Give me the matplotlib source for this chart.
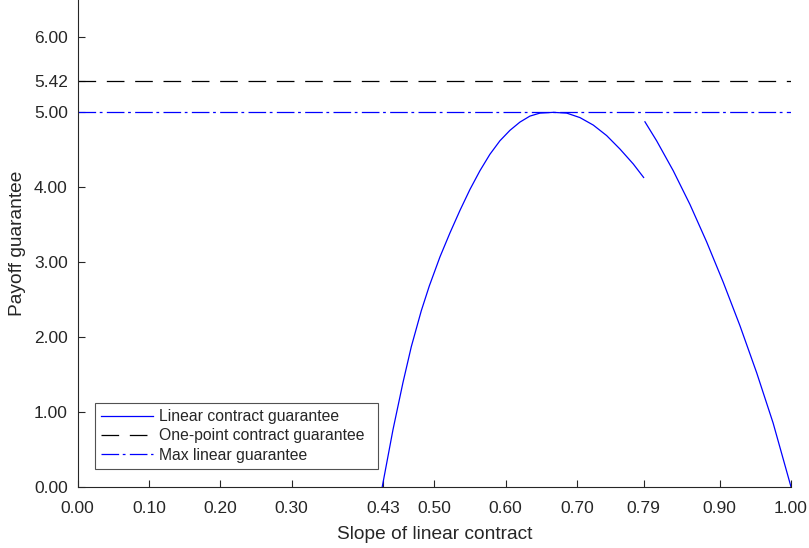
import matplotlib
matplotlib.use('Agg')
import matplotlib.pyplot as plt

plt.rcParams['font.family'] = ['Liberation Sans', 'DejaVu Sans']
plt.rcParams['lines.scale_dashes'] = False

# linear contract guarantee, first branch
x_left = [0.4271, 0.4421, 0.4561, 0.4678, 0.4818, 0.493, 0.508, 0.522, 0.536,
          0.550, 0.564, 0.578, 0.592, 0.6061, 0.6201, 0.6341, 0.6481, 0.6668,
          0.6856, 0.7042, 0.7229, 0.7416, 0.7603, 0.779, 0.7935]
y_left = [0.0, 0.76, 1.39, 1.87, 2.35, 2.68, 3.07, 3.39, 3.69,
          3.97, 4.22, 4.44, 4.62, 4.76, 4.87, 4.95, 4.99, 5.00,
          4.99, 4.93, 4.83, 4.69, 4.51, 4.31, 4.13]

# second branch after the jump
x_right = [0.7953, 0.8117, 0.835, 0.8584, 0.8818, 0.9051, 0.9285, 0.952, 0.975, 1.0]
y_right = [4.874, 4.62, 4.22, 3.77, 3.27, 2.73, 2.15, 1.52, 0.85, 0.0]

one_point = 5.42
max_linear = 5.00

x_ticks = [0.0, 0.1, 0.2, 0.3, 0.4286, 0.5, 0.6, 0.7, 0.7937, 0.9, 1.0]
y_ticks = [0.0, 1.0, 2.0, 3.0, 4.0, 5.0, 5.42, 6.0]

text_col = '#262626'

fig = plt.figure(figsize=(8.09, 5.48), dpi=100)
ax = fig.add_axes([0.0959, 0.1119, 0.8818, 0.888])

ax.plot(x_left, y_left, color='b', lw=0.9, label='Linear contract guarantee')
ax.plot(x_right, y_right, color='b', lw=0.9)
ax.axhline(one_point, color='k', lw=0.9, linestyle=(0, (12.7, 7.7)),
           label='One-point contract guarantee')
ax.axhline(max_linear, color='b', lw=0.9, linestyle=(0, (12.7, 2.6, 2.0, 3.1)),
           label='Max linear guarantee')

ax.set_xlim(0, 1)
ax.set_ylim(0, 6.5)
ax.set_xticks(x_ticks)
ax.set_xticklabels(['%.2f' % round(v, 2) for v in x_ticks])
ax.set_yticks(y_ticks)
ax.set_yticklabels(['%.2f' % v for v in y_ticks])

for s in ['top', 'right']:
    ax.spines[s].set_visible(False)
for s in ['left', 'bottom']:
    ax.spines[s].set_color(text_col)
    ax.spines[s].set_linewidth(0.8)

ax.tick_params(direction='in', length=5, width=0.8, color=text_col,
               labelcolor=text_col, labelsize=12.5)
ax.tick_params(axis='x', pad=10)
ax.tick_params(axis='y', pad=7)

ax.set_xlabel('Slope of linear contract', fontsize=13.8, color=text_col, labelpad=7.5)
ax.set_ylabel('Payoff guarantee', fontsize=13.8, color=text_col, labelpad=6)

# legend box stretched to the same width as in the original
leg = ax.legend(loc='lower left', bbox_to_anchor=(0.0244, 0.0364, 0.3967, 0.1),
                mode='expand', borderaxespad=0,
                fontsize=11.3, frameon=True, fancybox=False, handlelength=3.3,
                handletextpad=0.4, borderpad=0.4, labelspacing=0.27)
leg.get_frame().set_edgecolor(text_col)
leg.get_frame().set_linewidth(0.8)
for t in leg.get_texts():
    t.set_color(text_col)

plt.savefig('out.png', dpi=100)
